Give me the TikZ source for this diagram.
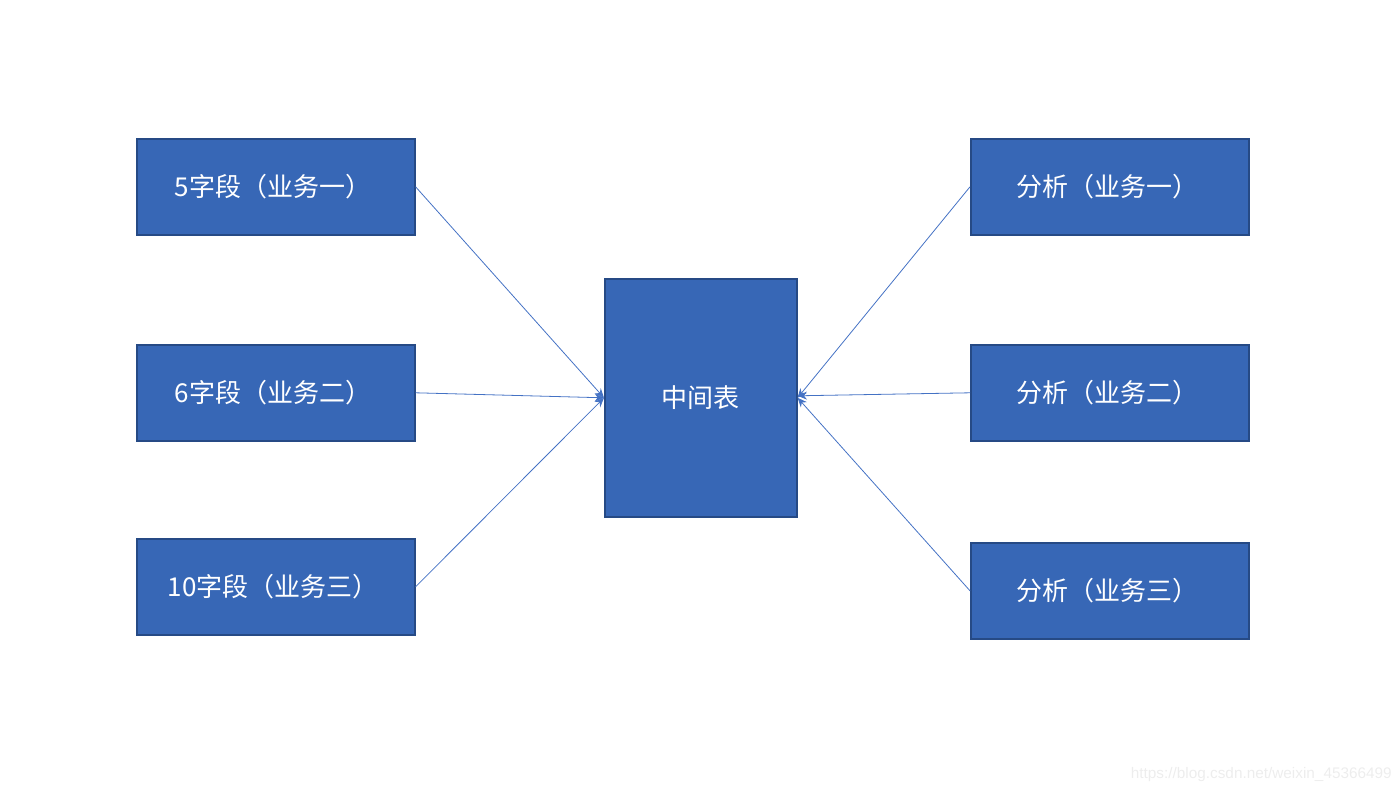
\documentclass[tikz,border=0pt]{standalone}
\usepackage{fontspec}
\setmainfont{Liberation Sans}
\newfontfamily\cjk{Noto Sans CJK SC}
\usetikzlibrary{arrows.meta}
\definecolor{boxfill}{HTML}{3767B6}
\definecolor{boxline}{HTML}{264A85}
\definecolor{linkc}{HTML}{4472C4}
\newcommand{\lsh}{\hspace*{-4pt}}
\tikzset{
  bx/.style={draw=boxline, line width=1.2pt, fill=boxfill, text=white, font=\cjk\fontsize{19.5}{22}\selectfont, anchor=north west, inner sep=0pt},
  side/.style={bx, minimum width=278*0.75pt, minimum height=96*0.75pt},
  link/.style={draw=linkc, line width=0.6pt, -{Stealth[length=7pt,width=6pt]}}
}
\begin{document}
\begin{tikzpicture}[x=0.75pt,y=-0.75pt]
\useasboundingbox (0,0) rectangle (1400,792);
\node[side] (l1) at (136,138) {\lsh 5字段（业务一）};
\node[side] (l2) at (136,344) {\lsh 6字段（业务二）};
\node[side] (l3) at (136,538) {\lsh 10字段（业务三）};
\node[bx, minimum width=192*0.75pt, minimum height=238*0.75pt] (c) at (604,278) {中间表};
\node[side] (r1) at (970,138) {\lsh 分析（业务一）};
\node[side] (r2) at (970,344) {\lsh 分析（业务二）};
\node[side] (r3) at (970,542) {\lsh 分析（业务三）};
\draw[link] (l1.east) -- (c.west);
\draw[link] (l2.east) -- (c.west);
\draw[link] (l3.east) -- (c.west);
\draw[link] (r1.west) -- (c.east);
\draw[link] (r2.west) -- ([yshift=1.5pt]c.east);
\draw[link] (r3.west) -- (c.east);
\node[text=black!7, font=\fontsize{11.5}{12}\selectfont, anchor=east, inner sep=0pt] (wm) at (1392,775) {https://blog.csdn.net/weixin\_45366499};
\end{tikzpicture}
\end{document}
